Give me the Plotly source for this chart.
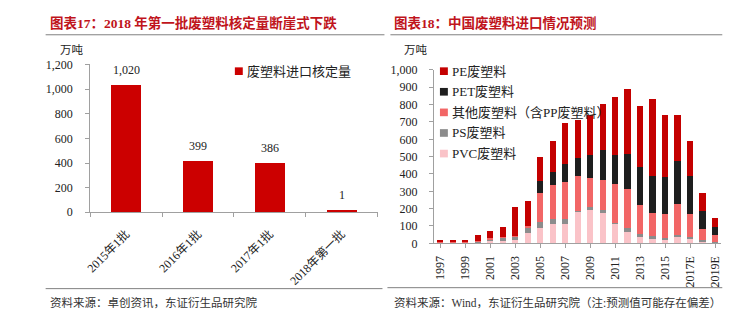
import plotly.graph_objects as go

W, H = 755, 333

# 图表17：废塑料进口核定量（万吨）
batches = ["2015年1批", "2016年1批", "2017年1批", "2018年第一批"]
approved = [1020, 399, 386, 1]
approved_name = "废塑料进口核定量"

# 图表18：中国废塑料进口情况（万吨）
years = ["1997", "1998", "1999", "2000", "2001", "2002", "2003", "2004",
         "2005", "2006", "2007", "2008", "2009", "2010", "2011", "2012",
         "2013", "2014", "2015", "2016", "2017E", "2018E", "2019E"]
year_ticks = ["1997", "1999", "2001", "2003", "2005", "2007", "2009", "2011",
              "2013", "2015", "2017E", "2019E"]
pvc = [3, 3, 3, 5, 15, 15, 20, 58, 91, 113, 113, 182, 192, 173, 117, 68,
       36, 27, 22, 40, 27, 13, 2]
ps = [1, 1, 1, 5, 8, 20, 22, 35, 33, 27, 27, 5, 18, 19, 3, 23,
      19, 13, 9, 9, 9, 9, 3]
other = [2, 2, 2, 5, 7, 2, 3, 5, 168, 198, 212, 200, 164, 173, 221, 223,
         164, 137, 141, 179, 132, 60, 41]
pet = [0, 0, 0, 0, 0, 0, 0, 0, 68, 73, 108, 106, 137, 173, 166, 201,
       219, 210, 208, 246, 221, 106, 51]
pe = [12, 12, 12, 32, 40, 59, 167, 145, 138, 180, 233, 219, 228, 265, 338, 376,
      356, 445, 359, 265, 199, 104, 49]

series_names = ["PVC废塑料", "PS废塑料", "其他废塑料（含PP废塑料）", "PET废塑料", "PE废塑料"]
series_values = [pvc, ps, other, pet, pe]
series_colors = ["#FAC3C8", "#8C8C8C", "#F26666", "#1E1E1E", "#C40000"]

FONT = "Liberation Serif, Noto Sans CJK SC, serif"
TITLE_RED = "#C0141C"
AXIS_GREY = "#A0A0A0"


def px(x):
    return x / W


def py(y):
    return 1 - y / H


fig = go.Figure()

# the outline keeps very small batches visible above the axis line
fig.add_trace(go.Bar(
    x=batches, y=approved, name=approved_name,
    marker=dict(color="#CC0000", line=dict(color="#CC0000", width=4)),
    xaxis="x", yaxis="y", showlegend=False, width=0.36,
))

for name, vals, col in zip(series_names, series_values, series_colors):
    fig.add_trace(go.Bar(
        x=years, y=vals, name=name, marker=dict(color=col, line=dict(width=0)),
        xaxis="x2", yaxis="y2", showlegend=False, width=0.5,
    ))

axis_common = dict(showline=True, linecolor=AXIS_GREY, linewidth=1, showgrid=False,
                   zeroline=False, ticks="outside", ticklen=4, tickcolor=AXIS_GREY,
                   tickfont=dict(family=FONT, size=12, color="#222"))

fig.update_layout(
    width=W, height=H,
    margin=dict(l=0, r=0, t=0, b=0),
    paper_bgcolor="white", plot_bgcolor="white",
    barmode="stack",
    font=dict(family=FONT, size=12, color="#222"),
    xaxis=dict(domain=[px(85), px(375)], anchor="y", type="category",
               tickson="boundaries", tickangle=-45, ticklabelstandoff=9,
               **axis_common),
    yaxis=dict(domain=[py(214.3), py(60)], anchor="x", range=[0, 1200], dtick=200,
               tickformat=",d", ticklabelstandoff=10, **axis_common),
    xaxis2=dict(domain=[px(432), px(722)], anchor="y2", type="category",
                tickmode="array", tickvals=year_ticks, ticktext=year_ticks,
                tickangle=-90, ticklabelstandoff=3, **axis_common),
    yaxis2=dict(domain=[py(246.7), py(65.7)], anchor="x2", range=[0, 1000], dtick=100,
                tickformat=",d", ticklabelstandoff=9, **axis_common),
)

annotations = []
shapes = []

# value labels above the approval bars
for b, v in zip(batches, approved):
    annotations.append(dict(x=b, y=v, xref="x", yref="y", text=f"{v:,}",
                            showarrow=False, yanchor="bottom", yshift=8,
                            font=dict(family=FONT, size=12, color="#222")))

# panel titles, units and sources
texts = [
    (42, 17, "图表17：2018 年第一批废塑料核定量断崖式下跌", 13.5, TITLE_RED, True),
    (390, 17, "图表18：中国废塑料进口情况预测", 13.5, TITLE_RED, True),
    (52, 45, "万吨", 11.5, "#222", False),
    (400, 45, "万吨", 11.5, "#222", False),
    (42, 308, "资料来源：卓创资讯，东证衍生品研究院", 11.5, "#333", False),
    (390, 308, "资料来源：Wind，东证衍生品研究院（注:预测值可能存在偏差）", 11.5, "#333", False),
]
for x, y, t, size, col, bold in texts:
    annotations.append(dict(x=px(x), y=py(y), xref="paper", yref="paper",
                            text=f"<b>{t}</b>" if bold else t, showarrow=False,
                            xanchor="left", yanchor="middle",
                            font=dict(family=FONT, size=size, color=col)))

# rules under titles and above sources
for x0, x1, y in [(40, 382, 29), (388, 723, 29), (40, 380, 294), (385, 723, 293)]:
    shapes.append(dict(type="line", xref="paper", yref="paper",
                       x0=px(x0), x1=px(x1), y0=py(y), y1=py(y),
                       line=dict(color="#808080", width=1)))

# legends drawn as swatches with labels
legend_items = [(approved_name, "#CC0000", 231, 67)]
for i, (name, col) in enumerate(zip(series_names[::-1], series_colors[::-1])):
    legend_items.append((name, col, 438, 67 + 21.5 * i))
for name, col, x, y in legend_items:
    shapes.append(dict(type="rect", xref="paper", yref="paper",
                       x0=px(x), x1=px(x + 8), y0=py(y + 4), y1=py(y - 4),
                       fillcolor=col, line=dict(width=0)))
    annotations.append(dict(x=px(x + 10), y=py(y), xref="paper", yref="paper",
                            text=name, showarrow=False, xanchor="left",
                            yanchor="middle",
                            font=dict(family=FONT, size=13, color="#222")))

fig.update_layout(annotations=annotations, shapes=shapes)

fig.write_html("out.html")
